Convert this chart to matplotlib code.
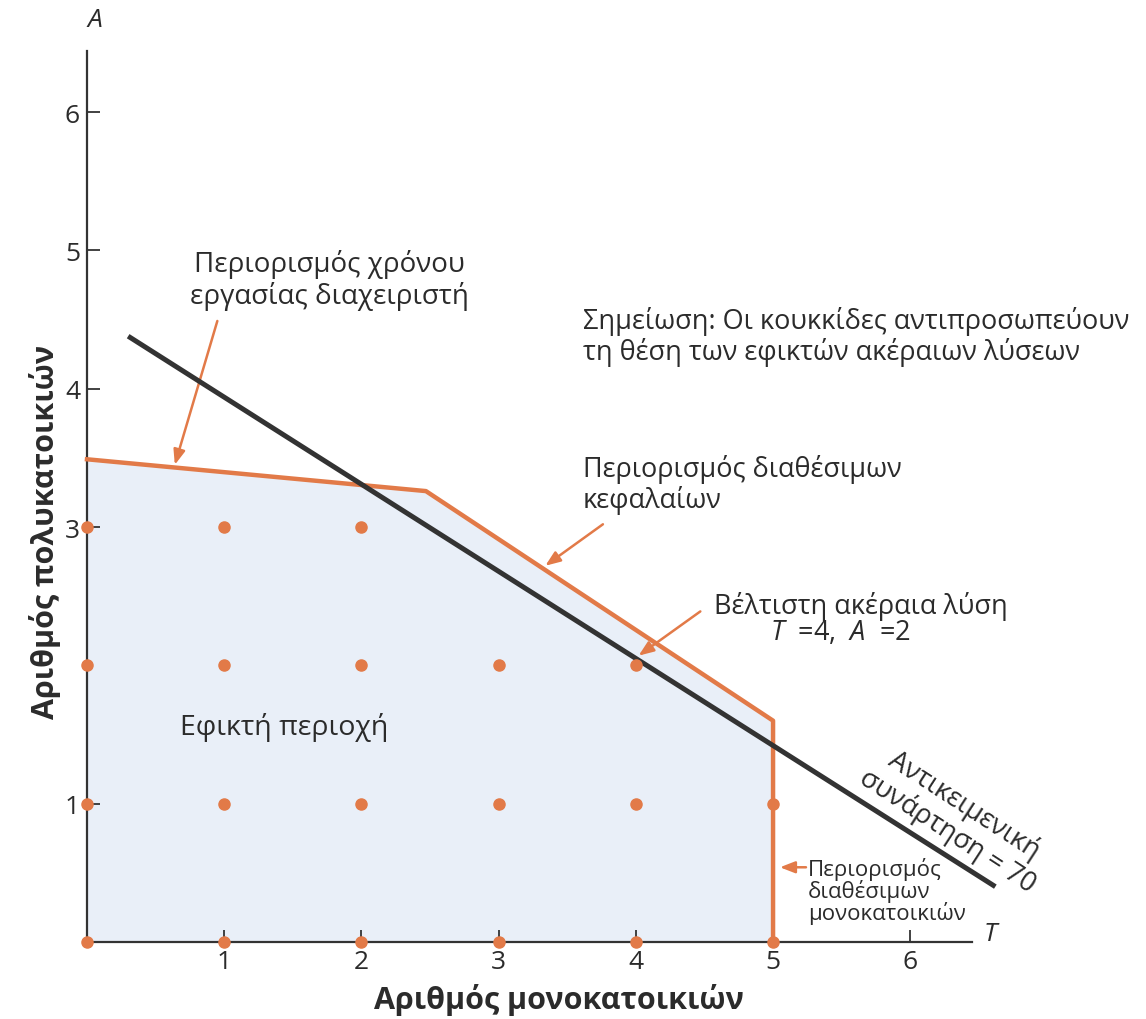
import matplotlib.pyplot as plt
import numpy as np

plt.rcParams['font.family'] = ['Open Sans', 'DejaVu Sans']
plt.rcParams['mathtext.fontset'] = 'custom'
plt.rcParams['mathtext.it'] = 'Open Sans:italic'
plt.rcParams['mathtext.rm'] = 'Open Sans'

# Δεδομένα
# όριο εφικτής περιοχής (χρόνος, κεφάλαια, μονοκατοικίες)
boundary_T = [0, 2.47, 5, 5]
boundary_A = [3.49, 3.26, 1.6, 0]

# αντικειμενική συνάρτηση = 70
objective_T = [0.30, 6.62]
objective_A = [4.38, 0.40]

# εφικτές ακέραιες λύσεις
points_T = [0, 1, 2, 0, 1, 2, 3, 4, 0, 1, 2, 3, 4, 5, 0, 1, 2, 3, 4, 5]
points_A = [3, 3, 3, 2, 2, 2, 2, 2, 1, 1, 1, 1, 1, 1, 0, 0, 0, 0, 0, 0]

x_ticks = [1, 2, 3, 4, 5, 6]
y_ticks = [1, 3, 4, 5, 6]

orange = '#e27a48'
dark = '#333333'
txt = '#2b2b2b'
fs = 19.5

fig = plt.figure(figsize=(11.46, 10.2), dpi=100)
ax = fig.add_axes([0, 0, 1, 1])
ax.set_xlim(-0.634, 7.718)
ax.set_ylim(-0.557, 6.818)

# άξονες
for s in ['top', 'right']:
    ax.spines[s].set_visible(False)
ax.spines['left'].set_position(('data', 0))
ax.spines['bottom'].set_position(('data', 0))
ax.spines['left'].set_bounds(0, 6.44)
ax.spines['bottom'].set_bounds(0, 6.45)
for s in ['left', 'bottom']:
    ax.spines[s].set_linewidth(1.6)
    ax.spines[s].set_color(dark)
ax.set_xticks(x_ticks)
ax.set_yticks(y_ticks)
ax.tick_params(direction='in', length=9, width=1.3, colors=dark,
               labelsize=19, labelcolor=txt, pad=5)

# εφικτή περιοχή
ax.fill(boundary_T + [0], boundary_A + [0], color='#e9eff8', zorder=1)
ax.plot(boundary_T, boundary_A, color=orange, lw=3.2, zorder=3)
ax.plot(objective_T, objective_A, color=dark, lw=3.6, solid_capstyle='butt', zorder=4)
ax.plot(points_T, points_A, 'o', color=orange, ms=8, zorder=5, clip_on=False)

# κείμενα
ax.text(1.77, 4.79, 'Περιορισμός χρόνου\nεργασίας διαχειριστή', ha='center', va='center',
        fontsize=20, color=txt, linespacing=1.1)
ax.text(3.615, 4.38, 'Σημείωση: Οι κουκκίδες αντιπροσωπεύουν\nτη θέση των εφικτών ακέραιων λύσεων',
        ha='left', va='center', fontsize=fs, color=txt, linespacing=1.1)
ax.text(3.615, 3.31, 'Περιορισμός διαθέσιμων\nκεφαλαίων', ha='left', va='center',
        fontsize=fs, color=txt, linespacing=1.1)
ax.text(5.64, 2.43, 'Βέλτιστη ακέραια λύση', ha='center', va='center', fontsize=fs, color=txt)
ax.text(5.49, 2.24, '$T$  =4,  $A$  =2', ha='center', va='center', fontsize=fs, color=txt)
ax.text(1.44, 1.555, 'Εφικτή περιοχή', ha='center', va='center', fontsize=20.5, color=txt)
ax.text(5.255, 0.37, 'Περιορισμός\nδιαθέσιμων\nμονοκατοικιών', ha='left', va='center',
        fontsize=16, color=txt, linespacing=0.95)
ax.text(6.33, 0.90, 'Αντικειμενική\nσυνάρτηση = 70', ha='center', va='center',
        fontsize=fs, color=txt, rotation=-33, rotation_mode='anchor', linespacing=1.05)
ax.text(0.06, 6.67, 'A', ha='center', va='center', fontsize=19, style='italic', color=txt)
ax.text(6.58, 0.06, 'T', ha='center', va='center', fontsize=19, style='italic', color=txt)

ax.text(3.44, -0.41, 'Αριθμός μονοκατοικιών', ha='center', va='center', fontsize=22,
        fontweight='bold', color=txt)
ax.text(-0.306, 2.97, 'Αριθμός πολυκατοικιών', ha='center', va='center', fontsize=22,
        fontweight='bold', color=txt, rotation=90)

# βέλη
arrow = dict(arrowstyle='-|>,head_length=0.9,head_width=0.35', color=orange, lw=1.8,
             shrinkA=0, shrinkB=0)
ax.annotate('', xy=(0.64, 3.45), xytext=(0.95, 4.49), arrowprops=arrow)
ax.annotate('', xy=(3.34, 2.72), xytext=(3.76, 3.02), arrowprops=arrow)
ax.annotate('', xy=(4.02, 2.07), xytext=(4.47, 2.39), arrowprops=arrow)
ax.annotate('', xy=(5.05, 0.54), xytext=(5.24, 0.54), arrowprops=arrow)

fig.savefig('out.png', dpi=100, facecolor='white')
